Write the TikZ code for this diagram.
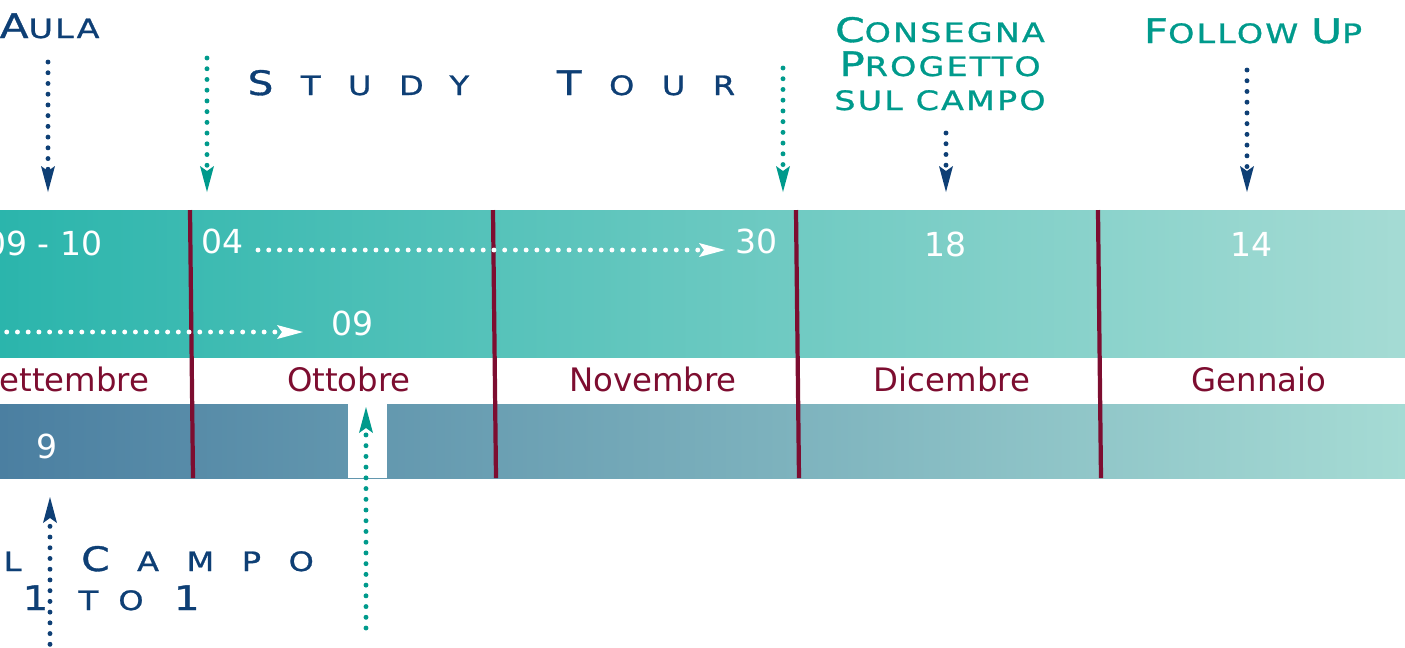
\documentclass[tikz,border=0pt]{standalone}
\usepackage{fontspec}
\setmainfont{DejaVu Sans}
\newfontfamily\capsfont[FakeStretch=1.25,FakeBold=1,LetterSpace=8]{DejaVu Sans}
\newfontfamily\widefont[FakeStretch=1.2,FakeBold=1,LetterSpace=103]{DejaVu Sans}
\usetikzlibrary{arrows.meta}

\definecolor{navy}{RGB}{14,63,117}
\definecolor{tealD}{RGB}{0,154,140}
\definecolor{maroon}{RGB}{125,13,48}
\definecolor{tealA}{RGB}{43,181,172}
\definecolor{tealB}{RGB}{165,219,212}
\definecolor{blueA}{RGB}{75,127,161}

% big initial of the fake small caps
\newcommand{\capbig}[1]{{\fontsize{9.6}{9.67}\selectfont #1}}
% the same, followed by the tracking of the spaced titles
\newcommand{\capgap}[1]{\capbig{#1}\hspace{0.275cm}}

\begin{document}
\begin{tikzpicture}[x=0.01cm, y=-0.01cm, >={Stealth[length=0.26cm,width=0.14cm,inset=0.05cm,line width=0pt]}]
        \tikzstyle{dots}=[->, line width=1.4pt, line cap=round, dash pattern=on 0pt off 3.05pt]
        \tikzstyle{divider}=[draw=maroon, line width=1.2pt]
        \tikzstyle{month}=[anchor=base, inner sep=0pt, text=maroon, font=\fontsize{9.2}{10}\selectfont]
        \tikzstyle{day}=[anchor=base, inner sep=0pt, text=white, font=\fontsize{9.4}{10}\selectfont]
        \tikzstyle{title}=[inner sep=0pt, font=\capsfont\fontsize{7.6}{9.67}\selectfont]
        \tikzstyle{spaced}=[inner sep=0pt, font=\widefont\fontsize{7.6}{9.67}\selectfont]

        \useasboundingbox (0,0) rectangle (1405,647);
        \clip (0,0) rectangle (1405,647);

        % bands
        \shade[left color=tealA, right color=tealB] (0,210) rectangle (1405,357);
        \shade[left color=blueA, right color=tealB] (0,404) rectangle (1405,478);
        \fill[white] (348,404) rectangle (387,478);

        \foreach \a/\b in {190/193, 493/496, 796/799, 1098/1101}
            \draw[divider] (\a,210) -- (\b,478);

        % months
        \node[month, anchor=base west] (set) at (-1,391) {ettembre};
        \node[month] (ott) at (349,391) {Ottobre};
        \node[month] (nov) at (653,391) {Novembre};
        \node[month] (dic) at (952,391) {Dicembre};
        \node[month] (gen) at (1259,391) {Gennaio};

        % days
        \node[day, anchor=base east] (d0910) at (103,255) {09 - 10};
        \node[day, anchor=base west] (d04)   at (201,253) {04};
        \node[day] (d30) at (757,253) {30};
        \node[day] (d18) at (946,256) {18};
        \node[day] (d14) at (1252,256) {14};
        \node[day] (d09) at (353,335) {09};
        \node[day] (d9)  at (47,458)  {9};

        % titles
        \node[title, text=navy, anchor=base west] (aula) at (-1,38) {\capbig{A}ULA};
        \node[title, text=tealD, anchor=base, align=center] (consegna) at (940,110)
            {\capbig{C}ONSEGNA\\ \capbig{P}ROGETTO\\ SUL CAMPO};
        \node[title, text=tealD, anchor=base] (follow) at (1253,43) {\capbig{F}OLLOW \capbig{U}P};
        \node[spaced, text=navy, anchor=base west] (study) at (247,95)
            {\capgap{S}TUDY \hspace{0.5cm}\capgap{T}OUR};
        \node[spaced, text=navy, anchor=base west] (campo) at (3,571)
            {L \hspace{0.22cm}\capgap{C}AMPO};
        \node[spaced, text=navy, anchor=base west,
              font={\widefont\addfontfeature{LetterSpace=75}\fontsize{7.6}{9.67}\selectfont}] (onetoone) at (22,610)
            {\capbig{1} TO \capbig{1}};

        % arrow ends
        \coordinate (a1) at (48,62);    \coordinate (b1) at (48,192);
        \coordinate (a2) at (207,58);   \coordinate (b2) at (207,192);
        \coordinate (a3) at (783,68);   \coordinate (b3) at (783,192);
        \coordinate (a4) at (946,133);  \coordinate (b4) at (946,192);
        \coordinate (a5) at (1247,70);  \coordinate (b5) at (1247,192);
        \coordinate (a6) at (366,628);  \coordinate (b6) at (366,407);
        \coordinate (a7) at (50,655);   \coordinate (b7) at (50,497);
        \coordinate (a8) at (258,250);  \coordinate (b8) at (725,250);
        \coordinate (a9) at (-4,332);   \coordinate (b9) at (303,332);

        \draw[dots, navy]  (a1) -- (b1);
        \draw[dots, tealD] (a2) -- (b2);
        \draw[dots, tealD] (a3) -- (b3);
        \draw[dots, navy]  (a4) -- (b4);
        \draw[dots, navy]  (a5) -- (b5);
        \draw[dots, tealD] (a6) -- (b6);
        \draw[dots, navy]  (a7) -- (b7);
        \draw[dots, white] (a8) -- (b8);
        \draw[dots, white] (a9) -- (b9);
\end{tikzpicture}
\end{document}
